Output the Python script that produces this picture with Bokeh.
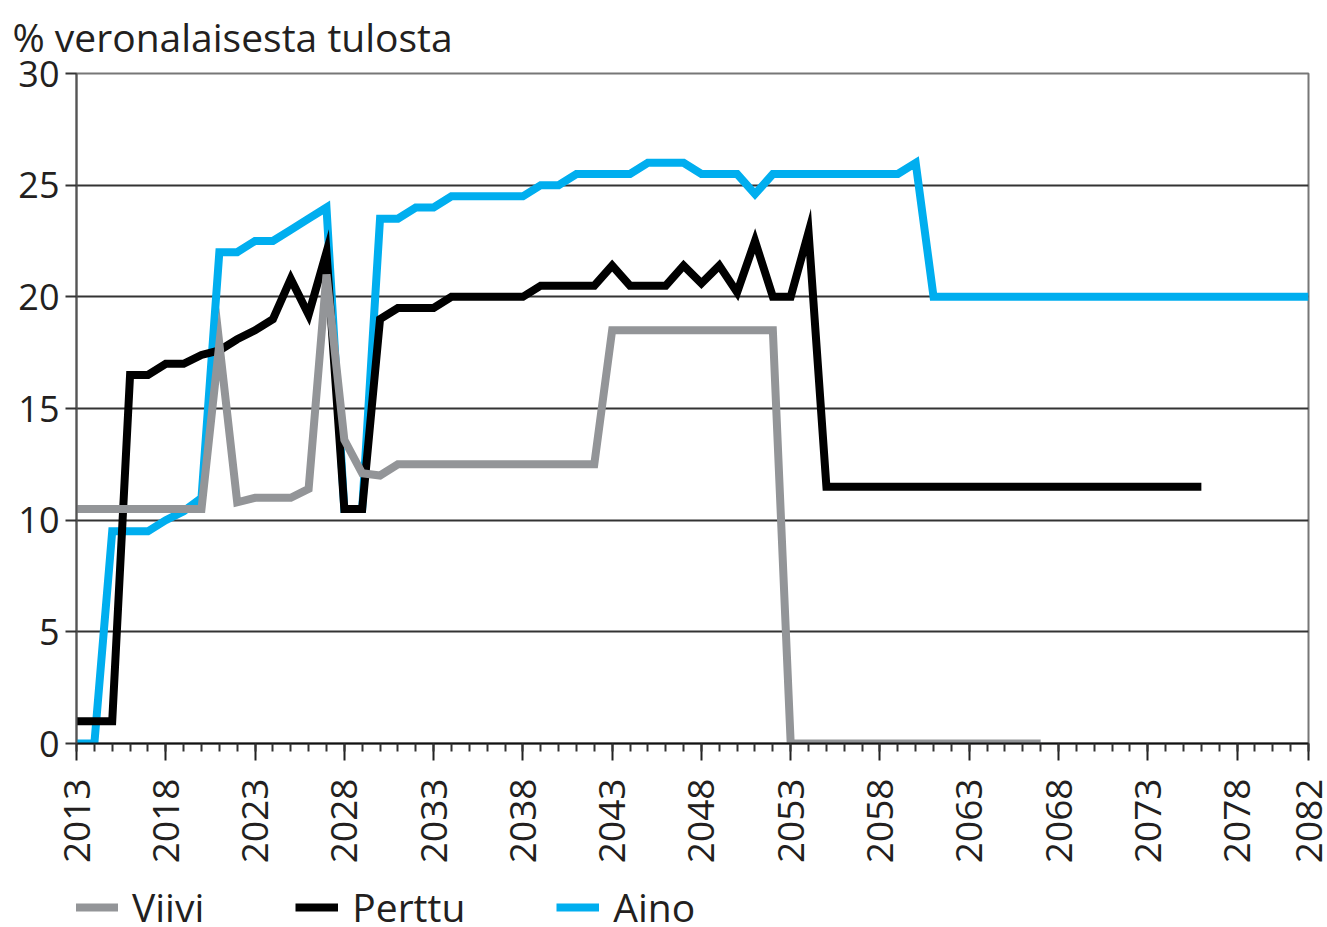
import math
from bokeh.plotting import figure
from bokeh.layouts import column
from bokeh.models import (Range1d, FixedTicker, Legend, LegendItem, Title)
from bokeh.embed import file_html
from bokeh.resources import INLINE

# ---------------- data ----------------
title_text = "% veronalaisesta tulosta"

viivi_start = 2013
viivi = [10.5, 10.5, 10.5, 10.5, 10.5, 10.5, 10.5, 10.5,   # 2013-2020
         17.9, 10.8, 11.0, 11.0, 11.0, 11.4, 21.0, 13.6,   # 2021-2028
         12.1, 12.0,                                       # 2029-2030
         12.5, 12.5, 12.5, 12.5, 12.5, 12.5, 12.5, 12.5, 12.5, 12.5, 12.5, 12.5,  # 2031-2042
         18.5, 18.5, 18.5, 18.5, 18.5, 18.5, 18.5, 18.5, 18.5, 18.5,  # 2043-2052
         0, 0, 0, 0, 0, 0, 0, 0, 0, 0, 0, 0, 0, 0, 0]      # 2053-2067

perttu_start = 2013
perttu = [1.0, 1.0, 1.0, 16.5, 16.5, 17.0, 17.0, 17.4, 17.6,  # 2013-2021
          18.1, 18.5, 19.0, 20.8, 19.2, 22.0, 10.5, 10.5,    # 2022-2029
          19.0, 19.5, 19.5, 19.5,                            # 2030-2033
          20.0, 20.0, 20.0, 20.0, 20.0,                      # 2034-2038
          20.5, 20.5, 20.5, 20.5,                            # 2039-2042
          21.4, 20.5, 20.5, 20.5, 21.4, 20.6, 21.4, 20.2,    # 2043-2050
          22.5, 20.0, 20.0, 22.9,                            # 2051-2054
          11.5, 11.5, 11.5, 11.5, 11.5, 11.5, 11.5, 11.5, 11.5, 11.5, 11.5,
          11.5, 11.5, 11.5, 11.5, 11.5, 11.5, 11.5, 11.5, 11.5, 11.5, 11.5]  # 2055-2076

aino_start = 2013
aino = [0.0, 0.0, 9.5, 9.5, 9.5, 10.0, 10.4, 11.0,         # 2013-2020
        22.0, 22.0, 22.5, 22.5, 23.0, 23.5, 24.0,          # 2021-2027
        10.5, 10.5, 23.5, 23.5, 24.0, 24.0,                # 2028-2033
        24.5, 24.5, 24.5, 24.5, 24.5,                      # 2034-2038
        25.0, 25.0, 25.5, 25.5, 25.5, 25.5,                # 2039-2044
        26.0, 26.0, 26.0, 25.5, 25.5, 25.5, 24.6,          # 2045-2051
        25.5, 25.5, 25.5, 25.5, 25.5, 25.5, 25.5, 25.5,    # 2052-2059
        26.0,                                              # 2060
        20.0, 20.0, 20.0, 20.0, 20.0, 20.0, 20.0, 20.0, 20.0, 20.0, 20.0,
        20.0, 20.0, 20.0, 20.0, 20.0, 20.0, 20.0, 20.0, 20.0, 20.0, 20.0]  # 2061-2082

x_ticks = [2013, 2018, 2023, 2028, 2033, 2038, 2043, 2048, 2053, 2058,
           2063, 2068, 2073, 2078, 2082]
y_ticks = [0, 5, 10, 15, 20, 25, 30]
series_names = ["Viivi", "Perttu", "Aino"]

FONT = "Open Sans"
TXT = "#231f20"
colors = {"Viivi": "#939598", "Perttu": "#000000", "Aino": "#00aeef"}
series = {"Viivi": (viivi_start, viivi), "Perttu": (perttu_start, perttu),
          "Aino": (aino_start, aino)}

MAIN_H = 872
LEG_H = 927 - MAIN_H

p = figure(width=1327, height=MAIN_H, output_backend="svg", toolbar_location=None,
           x_range=Range1d(2013, 2082), y_range=Range1d(0, 30),
           min_border_left=76, min_border_right=19, min_border_top=73,
           min_border_bottom=MAIN_H - 743, title=None)
p.background_fill_color = "white"
p.border_fill_color = "white"
p.outline_line_color = "#777777"
p.outline_line_width = 2

# grid
p.xgrid.visible = False
p.ygrid.ticker = FixedTicker(ticks=y_ticks)
p.ygrid.grid_line_color = "#333333"
p.ygrid.grid_line_width = 2

# x axis
p.xaxis.ticker = FixedTicker(ticks=x_ticks, minor_ticks=list(range(2013, 2083)))
p.xaxis.major_label_orientation = math.pi / 2
p.xaxis.major_label_text_font = FONT
p.xaxis.major_label_text_font_size = "37px"
p.xaxis.major_label_text_color = TXT
p.xaxis.major_label_standoff = 18
p.xaxis.major_tick_out = 17
p.xaxis.major_tick_in = 0
p.xaxis.minor_tick_out = 8
p.xaxis.minor_tick_in = 0
p.xaxis.major_tick_line_width = 2
p.xaxis.minor_tick_line_width = 2
p.xaxis.major_tick_line_color = "#222222"
p.xaxis.minor_tick_line_color = "#333333"
p.xaxis.axis_line_color = "#111111"
p.xaxis.axis_line_width = 2

# y axis
p.yaxis.ticker = FixedTicker(ticks=y_ticks)
p.yaxis.major_label_text_font = FONT
p.yaxis.major_label_text_font_size = "36px"
p.yaxis.major_label_text_color = TXT
p.yaxis.major_label_standoff = 6
p.yaxis.major_tick_out = 11
p.yaxis.major_tick_in = 0
p.yaxis.minor_tick_line_color = None
p.yaxis.major_tick_line_width = 2
p.yaxis.major_tick_line_color = "#333333"
p.yaxis.axis_line_color = "#555555"
p.yaxis.axis_line_width = 2

# series (draw order: Aino, Perttu, Viivi on top)
for name in ["Aino", "Perttu", "Viivi"]:
    start, vals = series[name]
    p.line(list(range(start, start + len(vals))), vals,
           line_color=colors[name], line_width=8, line_join="miter")

# title text at top-left
p.add_layout(Title(text=title_text, align="left", offset=-64, standoff=17,
                   vertical_align="top",
                   text_font=FONT, text_font_size="39px", text_color=TXT,
                   text_font_style="normal"), "above")

# ---------------- legend strip ----------------
# same series drawn on a y-range far from the data, so only the legend shows
q = figure(width=1327, height=LEG_H, output_backend="svg", toolbar_location=None,
           x_range=Range1d(2013, 2082), y_range=Range1d(100, 101),
           x_axis_location=None, y_axis_location=None, min_border=0,
           title=None)
q.grid.visible = False
q.outline_line_color = None
q.background_fill_color = "white"
q.border_fill_color = "white"

lg = {}
for name in series_names:
    start, vals = series[name]
    lg[name] = q.line(list(range(start, start + len(vals))), vals,
                      line_color=colors[name], line_width=8)

legend = Legend(items=[LegendItem(label=n, renderers=[lg[n]]) for n in series_names],
                orientation="horizontal", location=(-1, -6),
                glyph_width=43, glyph_height=40, label_height=40,
                label_standoff=14, spacing=91, padding=0, margin=0,
                background_fill_alpha=0, border_line_alpha=0,
                label_text_font=FONT, label_text_font_size="39px",
                label_text_color=TXT)
q.add_layout(legend)

layout = column(p, q, spacing=0)
open("out.html", "w").write(file_html(layout, INLINE))
